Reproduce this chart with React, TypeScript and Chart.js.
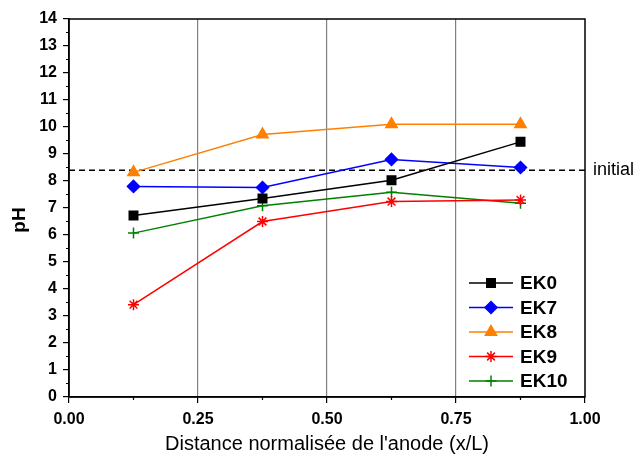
import React, { useEffect, useRef } from "react";
import { Chart, registerables } from "chart.js";
import { drawPoint } from "chart.js/helpers";

Chart.register(...registerables);

const xPositions = [0.125, 0.375, 0.625, 0.875];
const ek0 = [6.72, 7.35, 8.03, 9.45];
const ek7 = [7.8, 7.76, 8.8, 8.5];
const ek8 = [8.32, 9.72, 10.1, 10.1];
const ek9 = [3.42, 6.5, 7.24, 7.3];
const ek10 = [6.07, 7.08, 7.58, 7.18];
const initialPH = 8.4;
const xTicks = [0, 0.25, 0.5, 0.75, 1];
const seriesNames = ["EK0", "EK7", "EK8", "EK9", "EK10"];
const seriesColors = ["#000000", "#0000ff", "#ff8000", "#ff0000", "#008000"];
const seriesStyles = ["rect", "rectRot", "triangle", "star", "cross"];
const seriesRadius = [6, 6, 6.5, 5.5, 5.5];
const seriesValues = [ek0, ek7, ek8, ek9, ek10];

const FONT = "'Liberation Sans', Arial, sans-serif";

const extras = {
  id: "extras",
  afterDatasetsDraw(chart: any) {
    const { ctx, chartArea } = chart;
    const xs = chart.scales.x;
    const ys = chart.scales.y;
    ctx.save();
    // frame
    ctx.strokeStyle = "#000";
    ctx.lineWidth = 1.5;
    ctx.strokeRect(chartArea.left, chartArea.top, chartArea.right - chartArea.left, chartArea.bottom - chartArea.top);
    // minor ticks
    ctx.lineWidth = 1.2;
    ctx.beginPath();
    for (let v = 0.5; v < 14; v += 1) {
      const y = ys.getPixelForValue(v);
      ctx.moveTo(chartArea.left - 3, y);
      ctx.lineTo(chartArea.left, y);
    }
    for (let v = 0.125; v < 1; v += 0.25) {
      const x = xs.getPixelForValue(v);
      ctx.moveTo(x, chartArea.bottom);
      ctx.lineTo(x, chartArea.bottom + 3);
    }
    ctx.stroke();
    // y axis title
    ctx.save();
    ctx.translate(20, 220);
    ctx.rotate(-Math.PI / 2);
    ctx.fillStyle = "#000";
    ctx.font = `bold 19px ${FONT}`;
    ctx.textAlign = "center";
    ctx.textBaseline = "middle";
    ctx.fillText("pH", 0, 0);
    ctx.restore();
    // initial label
    ctx.fillStyle = "#000";
    ctx.font = `18px ${FONT}`;
    ctx.textBaseline = "middle";
    ctx.textAlign = "left";
    ctx.fillText("initial", chartArea.right + 8, ys.getPixelForValue(initialPH));
    // legend
    const lx0 = 469, lx1 = 513;
    const rows = [283, 307.5, 332, 356.5, 381];
    seriesNames.forEach((name, i) => {
      const ds = chart.data.datasets[i];
      const y = rows[i];
      ctx.strokeStyle = ds.borderColor;
      ctx.lineWidth = 1.5;
      ctx.beginPath();
      ctx.moveTo(lx0, y);
      ctx.lineTo(lx1, y);
      ctx.stroke();
      ctx.fillStyle = ds.pointBackgroundColor;
      ctx.strokeStyle = ds.pointBorderColor;
      ctx.lineWidth = 1.5;
      drawPoint(ctx, { pointStyle: ds.pointStyle, radius: ds.pointRadius, borderWidth: 1.5, rotation: 0 } as any, (lx0 + lx1) / 2, y);
      ctx.fillStyle = "#000";
      ctx.font = `bold 19px ${FONT}`;
      ctx.textAlign = "left";
      ctx.textBaseline = "middle";
      ctx.fillText(name, 520, y + 1);
    });
    ctx.restore();
  },
};

export default function App() {
  const ref = useRef<HTMLCanvasElement>(null);
  useEffect(() => {
    document.body.style.margin = "0";
    const datasets: any[] = seriesNames.map((name, i) => ({
      label: name,
      data: xPositions.map((x, j) => ({ x, y: seriesValues[i][j] })),
      borderColor: seriesColors[i],
      backgroundColor: seriesColors[i],
      pointBackgroundColor: seriesColors[i],
      pointBorderColor: seriesColors[i],
      pointStyle: seriesStyles[i],
      pointRadius: seriesRadius[i],
      pointBorderWidth: 1.5,
      borderWidth: 1.5,
      showLine: true,
    }));
    datasets.push({
      label: "initial",
      data: [{ x: 0, y: initialPH }, { x: 1, y: initialPH }],
      borderColor: "#000",
      borderDash: [6, 4],
      borderWidth: 1.5,
      pointRadius: 0,
      showLine: true,
    });
    const chart = new Chart(ref.current!, {
      type: "scatter",
      data: { datasets },
      options: {
        animation: false,
        responsive: false,
        layout: { padding: { left: 0, right: 55, top: 19, bottom: 0 } },
        plugins: { legend: { display: false }, tooltip: { enabled: false } },
        scales: {
          x: {
            type: "linear",
            min: 0,
            max: 1,
            afterBuildTicks: (s: any) => { s.ticks = xTicks.map((v) => ({ value: v })); },
            afterFit: (s: any) => { s.height = 59; },
            ticks: {
              color: "#000",
              font: { family: FONT, size: 16, weight: "bold" },
              padding: 7,
              callback: (v: any) => Number(v).toFixed(2),
            },
            grid: {
              color: (c: any) => (c.tick && c.tick.value > 0 && c.tick.value < 1 ? "#808080" : "rgba(0,0,0,0)"),
              lineWidth: 1.2,
              tickColor: "#000",
              tickLength: 6,
            },
            border: { color: "#000", width: 1.5 },
            title: {
              display: true,
              text: "Distance normalisée de l'anode (x/L)",
              color: "#000",
              font: { family: FONT, size: 20 },
              padding: { top: 2, bottom: 0 },
            },
          },
          y: {
            type: "linear",
            min: 0,
            max: 14,
            afterFit: (s: any) => { s.width = 69; },
            ticks: {
              stepSize: 1,
              color: "#000",
              font: { family: FONT, size: 16, weight: "bold" },
              padding: 6,
            },
            grid: { drawOnChartArea: false, tickColor: "#000", tickLength: 6, lineWidth: 1.2 },
            border: { color: "#000", width: 1.5 },
            title: { display: false },
          },
        },
      },
      plugins: [extras],
    });
    return () => chart.destroy();
  }, []);
  return (
    <div style={{ width: 640, height: 456 }}>
      <canvas ref={ref} width={640} height={456} style={{ width: 640, height: 456, display: "block" }} />
    </div>
  );
}
